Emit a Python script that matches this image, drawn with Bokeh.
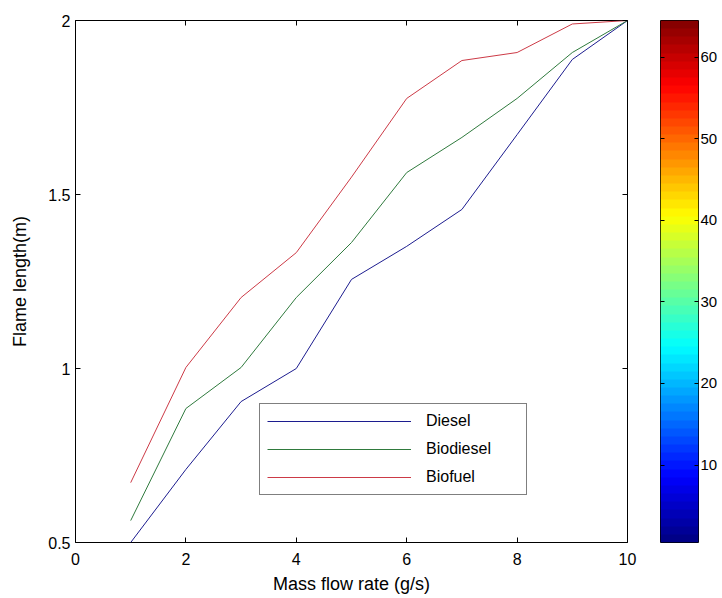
import numpy as np
from bokeh.plotting import figure
from bokeh.models import (Range1d, LinearAxis, FixedTicker, LinearColorMapper)
from bokeh.layouts import row
from bokeh.embed import file_html
from bokeh.resources import INLINE

# ---- data ----
mass_flow = [1, 2, 3, 4, 5, 6, 7, 8, 9, 10]
diesel = [0.50, 0.71, 0.905, 1.00, 1.256, 1.351, 1.457, 1.672, 1.888, 2.00]
biodiesel = [0.563, 0.885, 1.003, 1.204, 1.362, 1.563, 1.664, 1.776, 1.908, 2.00]
biofuel = [0.672, 1.003, 1.204, 1.333, 1.55, 1.776, 1.885, 1.908, 1.99, 2.00]
series_names = ["Diesel", "Biodiesel", "Biofuel"]
x_ticks = [0, 2, 4, 6, 8, 10]
y_ticks = [0.5, 1.0, 1.5, 2.0]
y_tick_labels = ["0.5", "1", "1.5", "2"]
cbar_levels = list(range(1, 65))
cbar_ticks = [10, 20, 30, 40, 50, 60]

FONT = "Liberation Sans"


def jet(n):
    cols = []
    for i in range(n):
        t = (i + 0.5) / n
        r = min(max(1.5 - abs(4 * t - 3), 0), 1)
        g = min(max(1.5 - abs(4 * t - 2), 0), 1)
        b = min(max(1.5 - abs(4 * t - 1), 0), 1)
        cols.append("#%02x%02x%02x" % (int(r * 255), int(g * 255), int(b * 255)))
    return cols


def tick_only_axis(ticks, tick_in):
    ax = LinearAxis(ticker=FixedTicker(ticks=ticks), major_tick_in=tick_in, major_tick_out=0,
                    minor_tick_line_color=None, axis_line_color=None,
                    major_label_standoff=0, major_label_text_font_size="1px")
    ax.major_label_overrides = {t: "" for t in ticks}
    return ax


# ---- main plot ----
p = figure(width=640, height=598, output_backend="svg", toolbar_location=None,
           x_range=Range1d(0, 10), y_range=Range1d(0.5, 2.0),
           min_border_left=75, min_border_right=13, min_border_top=20, min_border_bottom=56)
p.grid.visible = False
p.outline_line_color = "black"
p.outline_line_width = 1
p.background_fill_color = "white"
p.border_fill_color = "white"

colors = ["#1c1c8f", "#2f7a3d", "#cc3a46"]
for vals, name, c in zip([diesel, biodiesel, biofuel], series_names, colors):
    p.line(mass_flow, vals, line_color=c, line_width=1, legend_label=name)

xa = p.xaxis[0]
xa.ticker = FixedTicker(ticks=x_ticks)
ya = p.yaxis[0]
ya.ticker = FixedTicker(ticks=y_ticks)
ya.major_label_overrides = {t: l for t, l in zip(y_ticks, y_tick_labels)}

for ax in (xa, ya):
    ax.major_tick_in = 5
    ax.major_tick_out = 0
    ax.minor_tick_line_color = None
    ax.axis_line_color = None
    ax.major_tick_line_color = "black"
    ax.major_label_text_font = FONT
    ax.major_label_text_font_size = "16px"
    ax.major_label_text_color = "black"
    ax.axis_label_text_font = FONT
    ax.axis_label_text_font_size = "18px"
    ax.axis_label_text_font_style = "normal"
    ax.axis_label_text_color = "black"

xa.axis_label = "Mass flow rate (g/s)"
xa.major_label_standoff = 10
xa.axis_label_standoff = 6
ya.axis_label = "Flame length(m)"
ya.major_label_standoff = 5
ya.axis_label_standoff = 15

p.add_layout(tick_only_axis(x_ticks, 5), "above")
p.add_layout(tick_only_axis(y_ticks, 5), "right")

leg = p.legend[0]
leg.location = (184, 47)
leg.padding = 7
leg.spacing = 8
leg.margin = 0
leg.label_height = 20
leg.glyph_height = 20
leg.glyph_width = 144
leg.label_standoff = 15
leg.label_width = 93
leg.label_text_font = FONT
leg.label_text_font_size = "16px"
leg.label_text_color = "black"
leg.border_line_color = "black"
leg.border_line_width = 1
leg.background_fill_color = "white"
leg.background_fill_alpha = 1

# ---- colorbar ----
cb = figure(width=80, height=598, output_backend="svg", toolbar_location=None,
            x_range=Range1d(0, 1), y_range=Range1d(0.5, 64.5),
            min_border_left=20, min_border_right=0, min_border_top=20, min_border_bottom=53)
cb.grid.visible = False
cb.outline_line_color = "black"
cb.xaxis.visible = False
cb.yaxis.visible = False
mapper = LinearColorMapper(palette=jet(64), low=1, high=64)
cb.image(image=[np.array(cbar_levels).reshape(64, 1)], x=0, y=0.5, dw=1, dh=64,
         color_mapper=mapper)
cb_right = LinearAxis(ticker=FixedTicker(ticks=cbar_ticks), major_tick_in=4, major_tick_out=0,
                      minor_tick_line_color=None, axis_line_color=None,
                      major_label_text_font=FONT, major_label_text_font_size="15px",
                      major_label_text_color="black", major_label_standoff=2)
cb.add_layout(cb_right, "right")
cb.add_layout(tick_only_axis(cbar_ticks, 4), "left")

layout = row(p, cb, spacing=0)
open("out.html", "w").write(file_html(layout, INLINE))
